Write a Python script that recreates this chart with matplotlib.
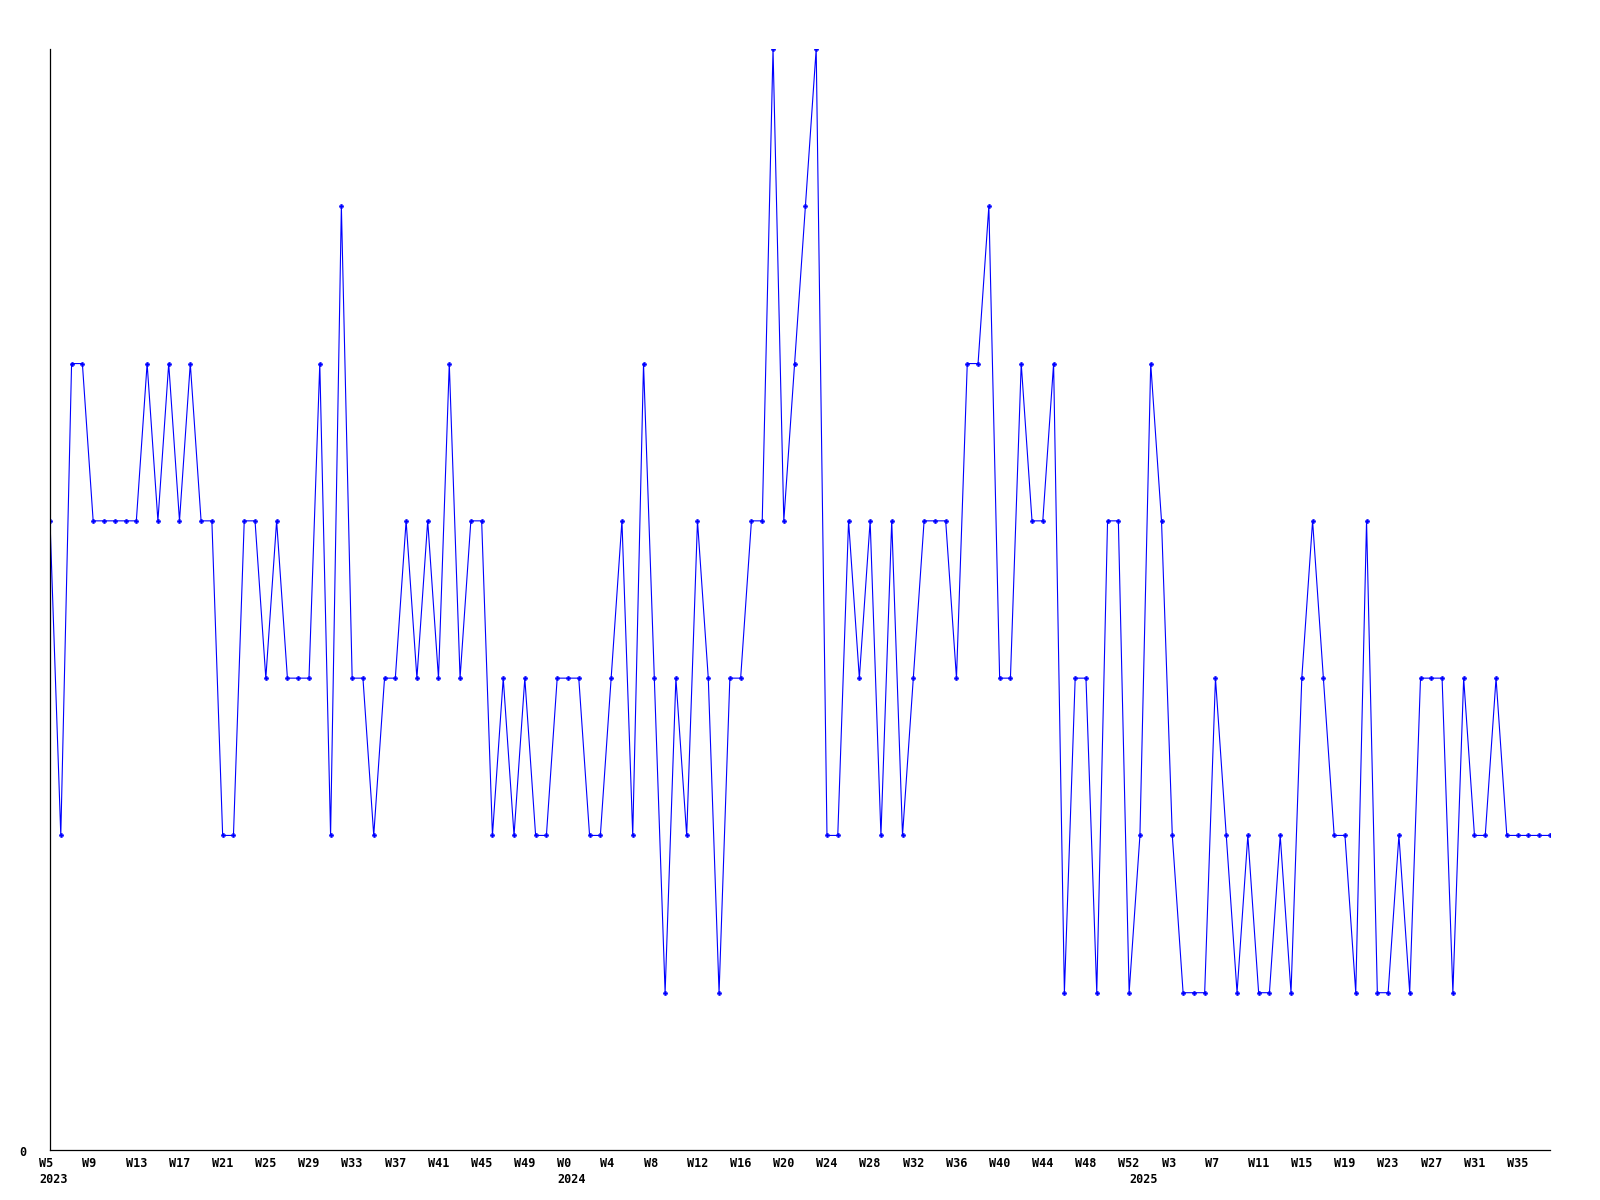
"""
Weekly count, 2023 W5 .. 2025 W38, drawn as a plain blue line with point markers.
"""

import matplotlib
matplotlib.use("Agg")
import matplotlib.pyplot as plt

# one value per week, starting 2023 W5
values = [
    4, 2, 5, 5, 4, 4, 4, 4, 4, 5, 4, 5, 4, 5, 4, 4, 2, 2, 4, 4,
    3, 4, 3, 3, 3, 5, 2, 6, 3, 3, 2, 3, 3, 4, 3, 4, 3, 5, 3, 4,
    4, 2, 3, 2, 3, 2, 2, 3, 3, 3, 2, 2, 3, 4, 2, 5, 3, 1, 3, 2,
    4, 3, 1, 3, 3, 4, 4, 7, 4, 5, 6, 7, 2, 2, 4, 3, 4, 2, 4, 2,
    3, 4, 4, 4, 3, 5, 5, 6, 3, 3, 5, 4, 4, 5, 1, 3, 3, 1, 4, 4,
    1, 2, 5, 4, 2, 1, 1, 1, 3, 2, 1, 2, 1, 1, 2, 1, 3, 4, 3, 2,
    2, 1, 4, 1, 1, 2, 1, 3, 3, 3, 1, 3, 2, 2, 3, 2, 2, 2, 2, 2,
]

# tick labels, one every 4 weeks
week_labels = [
    "W5", "W9", "W13", "W17", "W21", "W25", "W29", "W33", "W37", "W41", "W45", "W49",
    "W0", "W4", "W8", "W12", "W16", "W20", "W24", "W28", "W32", "W36", "W40", "W44",
    "W48", "W52",
    "W3", "W7", "W11", "W15", "W19", "W23", "W27", "W31", "W35",
]
years = ["2023", "2024", "2025"]
year_start_week = [0, 48, 101]

BLUE = "#0000ff"
FONT = dict(family="DejaVu Sans Mono", weight="bold", size=8.5)


def main() -> None:
    fig = plt.figure(figsize=(16, 12), dpi=100)
    ax = fig.add_axes([50 / 1600, 1 - 1150 / 1200, 1500 / 1600, 1101 / 1200])

    xs = list(range(len(values)))
    ax.plot(xs, values, color=BLUE, linewidth=0.8,
            marker="P", markersize=3.2, markerfacecolor=BLUE,
            markeredgecolor=BLUE, markeredgewidth=0.3)

    ax.set_xlim(0, len(values) - 1)
    ax.set_ylim(0, 7)
    ax.set_xticks([])
    ax.set_yticks([])
    for side in ("top", "right"):
        ax.spines[side].set_visible(False)
    for side in ("left", "bottom"):
        ax.spines[side].set_color("black")
        ax.spines[side].set_linewidth(0.9)

    tr = ax.get_xaxis_transform()
    for i, lab in enumerate(week_labels):
        ax.text(i * 4 - 1, -0.0127, lab, transform=tr, ha="left", va="center",
                clip_on=False, **FONT)
    for yr, wk in zip(years, year_start_week):
        ax.text(wk - 1, -0.0272, yr, transform=tr, ha="left", va="center",
                clip_on=False, **FONT)

    fig.text(23 / 1600, 1 - 1152 / 1200, "0", ha="center", va="center", **FONT)

    fig.savefig("out.png", dpi=100, facecolor="white")
    plt.close(fig)


if __name__ == "__main__":
    main()
